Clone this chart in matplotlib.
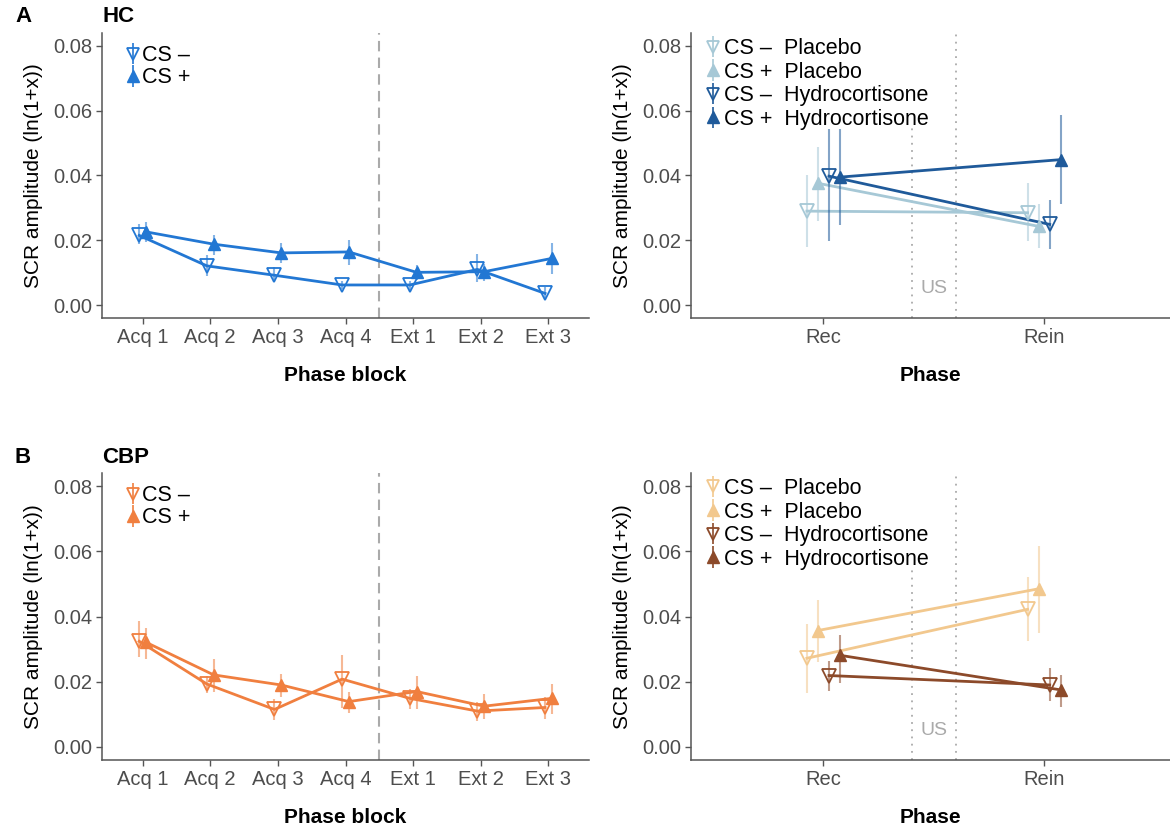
import matplotlib
matplotlib.use("Agg")
import matplotlib.pyplot as plt

plt.rcParams['font.family'] = ['Liberation Sans', 'DejaVu Sans']

# phase blocks (left panels)
blocks = ["Acq 1", "Acq 2", "Acq 3", "Acq 4", "Ext 1", "Ext 2", "Ext 3"]

hc_csm = [0.0215, 0.0121, 0.0092, 0.0062, 0.0062, 0.0110, 0.0036]
hc_csm_lo = [0.0190, 0.0089, 0.0072, 0.0048, 0.0046, 0.0072, 0.0021]
hc_csm_hi = [0.0249, 0.0154, 0.0118, 0.0075, 0.0075, 0.0157, 0.0056]
hc_csp = [0.0226, 0.0188, 0.0161, 0.0164, 0.0101, 0.0103, 0.0144]
hc_csp_lo = [0.0195, 0.0154, 0.0130, 0.0123, 0.0077, 0.0075, 0.0097]
hc_csp_hi = [0.0256, 0.0217, 0.0192, 0.0202, 0.0123, 0.0128, 0.0192]

cbp_csm = [0.0324, 0.0193, 0.0115, 0.0208, 0.0149, 0.0110, 0.0121]
cbp_csm_lo = [0.0275, 0.0165, 0.0084, 0.0118, 0.0115, 0.0080, 0.0087]
cbp_csm_hi = [0.0386, 0.0218, 0.0146, 0.0283, 0.0177, 0.0139, 0.0154]
cbp_csp = [0.0321, 0.0221, 0.0190, 0.0139, 0.0170, 0.0125, 0.0149]
cbp_csp_lo = [0.0269, 0.0170, 0.0154, 0.0105, 0.0115, 0.0087, 0.0101]
cbp_csp_hi = [0.0365, 0.0269, 0.0224, 0.0170, 0.0218, 0.0162, 0.0193]

# phases (right panels), order: CS- placebo, CS+ placebo, CS- hydro, CS+ hydro
phases = ["Rec", "Rein"]
groups = ["CS \u2013  Placebo", "CS +  Placebo", "CS \u2013  Hydrocortisone", "CS +  Hydrocortisone"]

hc_ph = [[0.0290, 0.0285], [0.0376, 0.0243], [0.0398, 0.0249], [0.0395, 0.0449]]
hc_ph_lo = [[0.0179, 0.0198], [0.0259, 0.0177], [0.0198, 0.0174], [0.0246, 0.0311]]
hc_ph_hi = [[0.0403, 0.0376], [0.0487, 0.0311], [0.0544, 0.0325], [0.0544, 0.0588]]

cbp_ph = [[0.0272, 0.0422], [0.0357, 0.0485], [0.0219, 0.0190], [0.0281, 0.0175]]
cbp_ph_lo = [[0.0165, 0.0324], [0.0262, 0.0348], [0.0173, 0.0142], [0.0195, 0.0123]]
cbp_ph_hi = [[0.0378, 0.0521], [0.0450, 0.0617], [0.0265, 0.0242], [0.0344, 0.0221]]

W, H = 1170, 827
fig = plt.figure(figsize=(W / 100, H / 100), dpi=100)


def rect(l, r, t, b):
    return [l / W, 1 - b / H, (r - l) / W, (b - t) / H]


def style(ax, xlabel):
    for s in ['top', 'right']:
        ax.spines[s].set_visible(False)
    for s in ['left', 'bottom']:
        ax.spines[s].set_color('#555555')
        ax.spines[s].set_linewidth(1.1)
    ax.set_ylim(-0.004, 0.084)
    ax.set_yticks([0, 0.02, 0.04, 0.06, 0.08])
    ax.set_yticklabels(["0.00", "0.02", "0.04", "0.06", "0.08"])
    ax.tick_params(colors='#555555', labelsize=14.5, length=4, width=1, pad=3)
    for lab in ax.get_xticklabels() + ax.get_yticklabels():
        lab.set_color('#4d4d4d')
    ax.set_ylabel("SCR amplitude (ln(1+x))", fontsize=15, labelpad=7)
    ax.set_xlabel(xlabel, fontsize=15, fontweight='bold', labelpad=14)


def draw_err(ax, x, y, lo, hi, color, filled):
    yerr = [[v - l for v, l in zip(y, lo)], [h - v for v, h in zip(y, hi)]]
    ax.plot(x, y, color=color, lw=2, zorder=2)
    c = ax.errorbar(x, y, yerr=yerr, fmt='none', ecolor=color, elinewidth=1.5, alpha=0.55, zorder=2)
    if filled:
        ax.plot(x, y, ls='none', marker='^', ms=9, color=color, zorder=3)
    else:
        ax.plot(x, y, ls='none', marker='v', ms=10, mfc='none', mec=color, mew=1.3, zorder=3)
    return c


def key(ax, color, filled):
    if filled:
        return ax.errorbar([], [], yerr=[], ecolor=color, elinewidth=1.2, ls='none', marker='^',
                           ms=8, color=color)
    return ax.errorbar([], [], yerr=[], ecolor=color, elinewidth=1.2, ls='none', marker='v',
                       ms=9, mfc='none', mec=color, mew=1.3)


def left_panel(ax, csm, csm_lo, csm_hi, csp, csp_lo, csp_hi, color):
    xs = list(range(1, len(blocks) + 1))
    ax.axvline(4.5, color='#aaaaaa', lw=1.5, ls=(0, (5, 3)), zorder=1)
    draw_err(ax, [x - 0.05 for x in xs], csm, csm_lo, csm_hi, color, False)
    draw_err(ax, [x + 0.05 for x in xs], csp, csp_lo, csp_hi, color, True)
    ax.set_xlim(0.4, 7.6)
    ax.set_xticks(xs)
    ax.set_xticklabels(blocks)
    style(ax, "Phase block")
    ax.legend([key(ax, color, False), key(ax, color, True)], ["CS \u2013", "CS +"],
              loc='upper left', bbox_to_anchor=(0.02, 1.01),
              frameon=False, fontsize=15.5, handlelength=0.6, handletextpad=0.1,
              labelspacing=0.05, borderpad=0.2)


def right_panel(ax, vals, lo, hi, colors):
    offs = [-0.075, -0.025, 0.025, 0.075]
    ax.axvline(1.4, ymax=0.667, color='#aaaaaa', lw=1.3, ls=(0, (1, 3)), zorder=1)
    ax.axvline(1.6, color='#aaaaaa', lw=1.3, ls=(0, (1, 3)), zorder=1)
    ax.text(1.5, 0.005, "US", color='#aaaaaa', fontsize=14, ha='center', va='center')
    handles = []
    for i in range(4):
        x = [1 + offs[i], 2 + offs[i]]
        filled = (i % 2 == 1)
        draw_err(ax, x, vals[i], lo[i], hi[i], colors[i], filled)
        handles.append(key(ax, colors[i], filled))
    ax.set_xlim(0.4, 2.57)
    ax.set_xticks([1, 2])
    ax.set_xticklabels(phases)
    style(ax, "Phase")
    ax.legend(handles, groups, loc='upper left', bbox_to_anchor=(0.0, 1.035),
              frameon=False, fontsize=15.5, handlelength=0.6, handletextpad=0.25,
              labelspacing=0.12, borderpad=0.2)


hc_col = '#2277d3'
cbp_col = '#f07f3f'
hc_cols = ['#a6c8d6', '#a6c8d6', '#1f5a9a', '#1f5a9a']
cbp_cols = ['#f2c88e', '#f2c88e', '#8c4a2a', '#8c4a2a']

ax1 = fig.add_axes(rect(102, 589, 33, 318))
left_panel(ax1, hc_csm, hc_csm_lo, hc_csm_hi, hc_csp, hc_csp_lo, hc_csp_hi, hc_col)
ax2 = fig.add_axes(rect(691, 1170, 33, 318))
right_panel(ax2, hc_ph, hc_ph_lo, hc_ph_hi, hc_cols)
ax3 = fig.add_axes(rect(102, 589, 473, 760))
left_panel(ax3, cbp_csm, cbp_csm_lo, cbp_csm_hi, cbp_csp, cbp_csp_lo, cbp_csp_hi, cbp_col)
ax4 = fig.add_axes(rect(691, 1170, 473, 760))
right_panel(ax4, cbp_ph, cbp_ph_lo, cbp_ph_hi, cbp_cols)

fig.text(15 / W, 1 - 17 / H, "A", fontsize=16, fontweight='bold', va='center')
fig.text(102 / W, 1 - 17 / H, "HC", fontsize=16, fontweight='bold', va='center')
fig.text(15 / W, 1 - 458 / H, "B", fontsize=16, fontweight='bold', va='center')
fig.text(102 / W, 1 - 458 / H, "CBP", fontsize=16, fontweight='bold', va='center')

fig.savefig("out.png", dpi=100)
